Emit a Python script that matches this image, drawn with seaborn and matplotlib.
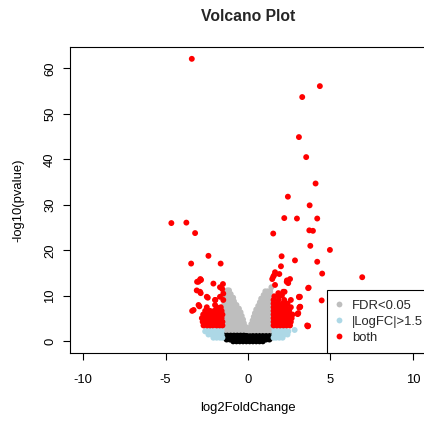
# Volcano plot: -log10(pvalue) vs log2FoldChange, coloured by significance class.
import matplotlib

matplotlib.use("Agg")
import matplotlib.pyplot as plt
import pandas as pd
import seaborn as sns
from matplotlib.lines import Line2D

# ---- data (x = log2FoldChange, y = -log10(pvalue)) ----
# not significant (black): dense lens around the origin
ns_x = [-0.9, -0.7, -0.5, -0.3, -0.1, 0.1, 0.3, 0.5, 0.7, 0.9,
        -1.3, -1.1, -0.9, -0.7, -0.5, -0.3, -0.1, 0.1, 0.3, 0.5, 0.7, 0.9, 1.1, 1.3,
        -1.45, -1.25, -1.05, -0.85, -0.65, -0.45, -0.25, -0.05, 0.05, 0.25, 0.45, 0.65, 0.85, 1.05, 1.25, 1.45,
        -1.45, -1.25, -1.05, -0.85, -0.65, -0.45, -0.25, -0.1, 0.1, 0.25, 0.45, 0.65, 0.85, 1.05, 1.25, 1.45,
        -1.45, -1.25, -1.05, -0.85, -0.65, -0.45, -0.25, 0.25, 0.45, 0.65, 0.85, 1.05, 1.25, 1.45]
ns_y = [0.0] * 10 + [0.4] * 14 + [0.9] * 16 + [1.4] * 16 + [1.9] * 14

# FDR<0.05 only (grey): two lobes inside |log2FC| <= 1.5
fdr_x = [-1.25, -1.15,
         -1.35, -1.2, -1.05,
         -1.45, -1.3, -1.1, -0.9,
         -1.45, -1.25, -1.05, -0.85,
         -1.45, -1.25, -1.05, -0.85, -0.7,
         -1.45, -1.25, -1.05, -0.85, -0.65, -0.55,
         -1.45, -1.25, -1.05, -0.85, -0.65, -0.45,
         -1.45, -1.25, -1.05, -0.85, -0.65, -0.45, -0.38,
         -1.45, -1.25, -1.05, -0.85, -0.65, -0.45, -0.3,
         -1.45, -1.25, -1.05, -0.85, -0.65, -0.45, -0.25,
         -1.45, -1.25, -1.05, -0.85, -0.65, -0.45, -0.25, -0.15,
         -1.35, -1.15, -0.95, -0.75, -0.55, -0.35, -0.15, -0.08,
         1.42,
         1.05, 1.2, 1.35,
         0.95, 1.1, 1.25, 1.4,
         0.8, 0.95, 1.1, 1.25, 1.42,
         0.72, 0.9, 1.05, 1.25, 1.42,
         0.62, 0.8, 1.0, 1.2, 1.42,
         0.5, 0.7, 0.9, 1.1, 1.3, 1.45,
         0.42, 0.6, 0.8, 1.0, 1.2, 1.45,
         0.35, 0.55, 0.75, 0.95, 1.15, 1.35, 1.45,
         0.28, 0.45, 0.65, 0.85, 1.05, 1.25, 1.45,
         0.2, 0.4, 0.6, 0.8, 1.0, 1.2, 1.45,
         0.1, 0.3, 0.5, 0.7, 0.9, 1.1, 1.3, 1.45,
         0.05, 0.2, 0.4, 0.6, 0.8, 1.0, 1.2, 1.4]
fdr_y = ([11.2] * 2 + [10.4] * 3 + [9.6] * 4 + [8.8] * 4 + [8.0] * 5 + [7.2] * 6
         + [6.4] * 6 + [5.6] * 7 + [4.8] * 7 + [4.0] * 7 + [3.2] * 8 + [2.5] * 8
         + [11.9] + [11.0] * 3 + [10.2] * 4 + [9.4] * 5 + [8.6] * 5 + [7.8] * 5
         + [7.0] * 6 + [6.2] * 6 + [5.4] * 7 + [4.6] * 7 + [3.8] * 7 + [3.0] * 8 + [2.4] * 8)

# |LogFC|>1.5 only (light blue): low-significance wings
fc_x = [-2.1, -1.9, -1.7, -1.55,
        -2.4, -2.2, -2.0, -1.8, -1.6,
        -2.6, -2.4, -2.2, -2.0, -1.8, -1.6,
        -2.5, -2.3, -1.9, -1.6,
        1.55, 1.7, 1.9, 2.1,
        1.6, 1.8, 2.0, 2.2, 2.4,
        1.6, 1.8, 2.0, 2.2, 2.45,
        1.6, 1.9, 2.2,
        2.83]
fc_y = ([0.8] * 4 + [1.5] * 5 + [2.2] * 6 + [2.8] * 4
        + [0.8] * 4 + [1.5] * 5 + [2.2] * 5 + [2.8] * 3 + [2.5])

# both (red): dense shoulders plus the scattered high points
both_x = [-2.7, -2.48, -2.3, -2.12, -1.9, -1.72, -1.55,
          -2.75, -2.55, -2.32, -2.15, -1.95, -1.75, -1.55,
          -2.8, -2.62, -2.4, -2.2, -1.98, -1.8, -1.6,
          -2.72, -2.45, -2.25, -2.0, -1.8, -1.55,
          -2.6, -2.3, -2.05, -1.85, -1.6,
          -2.5, -1.9, -1.65,
          1.55, 1.75, 1.95, 2.15, 2.35, 2.55,
          1.55, 1.78, 1.95, 2.17, 2.35, 2.6,
          1.55, 1.75, 1.97, 2.15, 2.4, 2.65,
          1.55, 1.75, 1.95, 2.2, 2.45, 2.7,
          1.55, 1.75, 2.0, 2.25, 2.5,
          1.55, 1.8, 2.05, 2.3, 2.6,
          1.55, 1.8, 2.1, 2.4,
          1.55, 1.85, 2.2, 2.6,
          1.6, 1.9,
          -3.41, 3.29, 4.36, 3.09, 3.53, 4.10, 2.42, 3.74, 2.20, 2.97, 4.20,
          -4.65, -3.74, -3.21, 1.53, 3.72, 3.94, 3.78, 4.97, -2.40, 2.04,
          -3.45, -1.66, 2.85, 4.20, 2.00, 1.64, 1.90, 4.50, 6.93, -2.89,
          2.55, 1.53, 4.47, 3.59, 3.68, 3.09, 3.11, 3.01, -3.39, -2.95,
          -2.93, -3.09, -2.10, -1.52, 2.36, 1.58, 1.47, -1.70, -1.56, -3.11,
          -2.87, -2.44, -1.98, -1.50, 2.22, 2.06, 3.11, 3.17, 3.03, 3.62,
          1.64, 2.35, 2.44, 3.65, 3.15, 2.24, 3.15, 3.05, 3.65, 1.84, 2.14,
          -3.01, -2.91, -2.50, -3.00, -3.30, -2.00, -2.00, -1.70, -1.50, -2.85]
both_y = ([3.5] * 7 + [4.3] * 7 + [5.1] * 7 + [5.9] * 6 + [6.7] * 5 + [7.5] * 3
          + [3.5] * 6 + [4.3] * 6 + [5.1] * 6 + [5.9] * 6 + [6.7] * 5 + [7.5] * 5
          + [8.3] * 4 + [9.1] * 4 + [9.9] * 2
          + [62.1, 53.7, 56.1, 44.9, 40.5, 34.7, 31.8, 29.9, 27.1, 27.0, 27.0,
             26.0, 26.1, 23.8, 23.7, 24.4, 24.3, 21.0, 20.1, 18.8, 18.7,
             17.1, 17.1, 17.8, 17.5, 16.5, 15.2, 14.8, 14.9, 14.1, 13.7,
             13.7, 14.2, 9.0, 3.5, 11.8, 9.8, 7.4, 6.0, 6.7, 7.7,
             13.4, 13.1, 12.7, 12.6, 13.4, 14.5, 13.7, 11.9, 11.5, 11.2,
             10.6, 9.6, 9.1, 9.1, 10.9, 10.1, 9.7, 7.6, 6.1, 3.3,
             12.4, 13.1, 12.8, 11.7, 9.8, 8.4, 7.6, 6.2, 3.4, 10.6, 10.9,
             13.1, 10.9, 9.8, 8.0, 6.9, 9.1, 8.0, 9.8, 10.5, 13.5])

groups = ["ns", "FDR<0.05", "|LogFC|>1.5", "both"]
colors = {"ns": "black", "FDR<0.05": "#BEBEBE", "|LogFC|>1.5": "#ADD8E6", "both": "red"}

df = pd.concat([
    pd.DataFrame({"log2FoldChange": ns_x, "logp": ns_y, "group": "ns"}),
    pd.DataFrame({"log2FoldChange": fdr_x, "logp": fdr_y, "group": "FDR<0.05"}),
    pd.DataFrame({"log2FoldChange": fc_x, "logp": fc_y, "group": "|LogFC|>1.5"}),
    pd.DataFrame({"log2FoldChange": both_x, "logp": both_y, "group": "both"}),
], ignore_index=True)

sns.set_theme(style="white")
plt.rcParams["font.family"] = ["Liberation Sans", "DejaVu Sans"]
plt.rcParams["axes.unicode_minus"] = False

FS = 9.4
fig = plt.figure(figsize=(4.24, 4.23), dpi=100)
ax = fig.add_axes([70 / 424, 1 - 352.7 / 423, 356 / 424, 305.7 / 423])

sns.scatterplot(data=df, x="log2FoldChange", y="logp", hue="group", hue_order=groups,
                palette=colors, s=18, linewidth=0, legend=False, ax=ax)

ax.set_xlim(-10.8, 10.8)
ax.set_ylim(-2.49, 64.7)
ax.set_xticks([-10, -5, 0, 5, 10])
ax.set_yticks([0, 10, 20, 30, 40, 50, 60])
for sp in ax.spines.values():
    sp.set_color("black")
    sp.set_linewidth(0.8)
ax.tick_params(axis="both", which="major", direction="out", length=5, width=0.8,
               color="black", labelsize=FS, labelcolor="black", bottom=True, left=True)
ax.tick_params(axis="x", pad=10)
ax.tick_params(axis="y", pad=5, labelrotation=90)
for lab in ax.get_yticklabels():
    lab.set_va("center")

ax.set_xlabel("log2FoldChange", fontsize=FS, color="black")
ax.set_ylabel("-log10(pvalue)", fontsize=FS, color="black")
ax.xaxis.set_label_coords(0.5, -0.181)
ax.yaxis.set_label_coords(-0.146, 0.5)
ax.xaxis.label.set_va("center")
ax.yaxis.label.set_va("center")
ax.set_title("Volcano Plot", fontsize=11.3, fontweight="bold", y=1.099, va="center", pad=0)

# legend box: left edge at x=327 px, bottom on the axis line; right side runs off the figure
handles = [Line2D([], [], marker="o", linestyle="", markersize=4.2, markeredgewidth=0,
                  color=colors[g]) for g in groups[1:]]
leg = ax.legend(handles, groups[1:], loc="lower left", bbox_to_anchor=((327 - 70) / 356, 0),
                borderaxespad=0, fontsize=FS, frameon=True, fancybox=False, framealpha=1,
                edgecolor="black", borderpad=0.69, labelspacing=0.3, handlelength=0.46,
                handletextpad=0.77)
leg.get_frame().set_linewidth(0.8)

fig.savefig("out.png", dpi=100)
